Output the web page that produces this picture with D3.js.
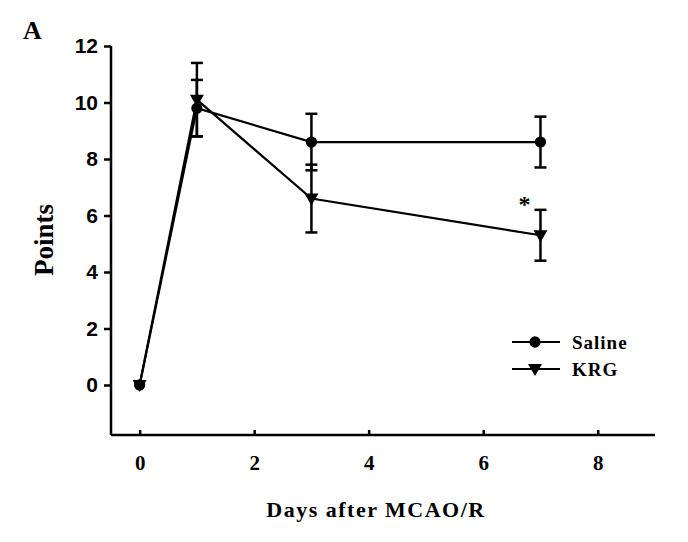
<!DOCTYPE html>
<html>
<head>
<meta charset="utf-8">
<script src="https://cdn.jsdelivr.net/npm/d3@7"></script>
<style>
  body { margin: 0; background: #fff; }
  svg { display: block; }
</style>
</head>
<body>
<svg id="chart" width="688" height="542"></svg>
<script>
// data
var days = [0, 1, 3, 7];
var saline = [0, 9.8, 8.6, 8.6];
var salineErr = [0, 1.0, 1.0, 0.9];
var krg = [0, 10.1, 6.6, 5.3];
var krgErr = [0, 1.3, 1.2, 0.9];
var yTicks = [0, 2, 4, 6, 8, 10, 12];
var xTicks = [0, 2, 4, 6, 8];

var svg = d3.select("#chart");
var x = d3.scaleLinear().domain([-0.5, 9]).range([111, 655]);
var y = d3.scaleLinear().domain([-1.77, 12]).range([435, 46]);

var serif = "'Liberation Serif', 'Times New Roman', serif";
var sans = "'Liberation Sans', Arial, sans-serif";

// axes
var yAxis = svg.append("g").attr("transform", "translate(111,0)")
    .call(d3.axisLeft(y).tickValues(yTicks).tickSize(7).tickPadding(6));
yAxis.select(".domain").attr("d", "M0," + y(12) + "V435").attr("stroke-width", 2.5);
yAxis.selectAll(".tick line").attr("stroke-width", 2.5);
yAxis.selectAll("text").attr("font-family", sans).attr("font-weight", "bold")
    .attr("font-size", 21).attr("fill", "#000");

var xAxis = svg.append("g").attr("transform", "translate(0,435)")
    .call(d3.axisBottom(x).tickValues(xTicks).tickSize(0).tickPadding(20));
xAxis.select(".domain").attr("d", "M111,0H655").attr("stroke-width", 2.5);
xAxis.selectAll(".tick").append("line").attr("y2", -5).attr("stroke", "#000").attr("stroke-width", 2.5);
xAxis.selectAll("text").attr("font-family", serif).attr("font-weight", "bold")
    .attr("font-size", 21).attr("fill", "#000");

// titles
svg.append("text").attr("x", 23).attr("y", 39).text("A")
    .attr("font-family", serif).attr("font-weight", "bold").attr("font-size", 26);
svg.append("text").attr("transform", "translate(53,240) rotate(-90)")
    .attr("text-anchor", "middle").text("Points")
    .attr("font-family", serif).attr("font-weight", "bold").attr("font-size", 27);
svg.append("text").attr("x", 376).attr("y", 517).attr("text-anchor", "middle")
    .text("Days after MCAO/R").attr("letter-spacing", 1.5)
    .attr("font-family", serif).attr("font-weight", "bold").attr("font-size", 22);

var line = d3.line().x(function(d) { return x(d[0]); }).y(function(d) { return y(d[1]); });

function drawSeries(vals, errs, symbol) {
  var pts = days.map(function(d, i) { return [d, vals[i], errs[i]]; });
  var g = svg.append("g");
  g.append("path").datum(pts).attr("d", line).attr("fill", "none")
    .attr("stroke", "#000").attr("stroke-width", 2.2);
  var eb = g.selectAll(".eb").data(pts.filter(function(p) { return p[2] > 0; })).enter().append("g");
  eb.append("line").attr("x1", function(p) { return x(p[0]); }).attr("x2", function(p) { return x(p[0]); })
    .attr("y1", function(p) { return y(p[1] + p[2]); }).attr("y2", function(p) { return y(p[1] - p[2]); })
    .attr("stroke", "#000").attr("stroke-width", 2.5);
  [1, -1].forEach(function(s) {
    eb.append("line").attr("x1", function(p) { return x(p[0]) - 6; }).attr("x2", function(p) { return x(p[0]) + 6; })
      .attr("y1", function(p) { return y(p[1] + s * p[2]); }).attr("y2", function(p) { return y(p[1] + s * p[2]); })
      .attr("stroke", "#000").attr("stroke-width", 2.5);
  });
  g.selectAll(".pt").data(pts).enter().append("path")
    .attr("transform", function(p) { return "translate(" + x(p[0]) + "," + y(p[1]) + ")"; })
    .attr("d", symbol).attr("fill", "#000");
}

var circle = d3.symbol().type(d3.symbolCircle).size(100)();
var tri = "M-7,-5L7,-5L0,7Z";

drawSeries(saline, salineErr, circle);
drawSeries(krg, krgErr, tri);

// significance mark
svg.append("text").attr("x", x(6.72)).attr("y", y(6.55) + 12).attr("text-anchor", "middle")
  .text("*").attr("font-family", serif).attr("font-weight", "bold").attr("font-size", 24);

// legend
var legend = [["Saline", circle, 342], ["KRG", tri, 369]];
legend.forEach(function(l) {
  svg.append("line").attr("x1", 512).attr("x2", 560).attr("y1", l[2]).attr("y2", l[2])
    .attr("stroke", "#000").attr("stroke-width", 2.2);
  svg.append("path").attr("transform", "translate(535," + l[2] + ")").attr("d", l[1]).attr("fill", "#000");
  svg.append("text").attr("x", 572).attr("y", l[2] + 7).text(l[0]).attr("letter-spacing", 1)
    .attr("font-family", serif).attr("font-weight", "bold").attr("font-size", 19);
});
</script>
</body>
</html>
